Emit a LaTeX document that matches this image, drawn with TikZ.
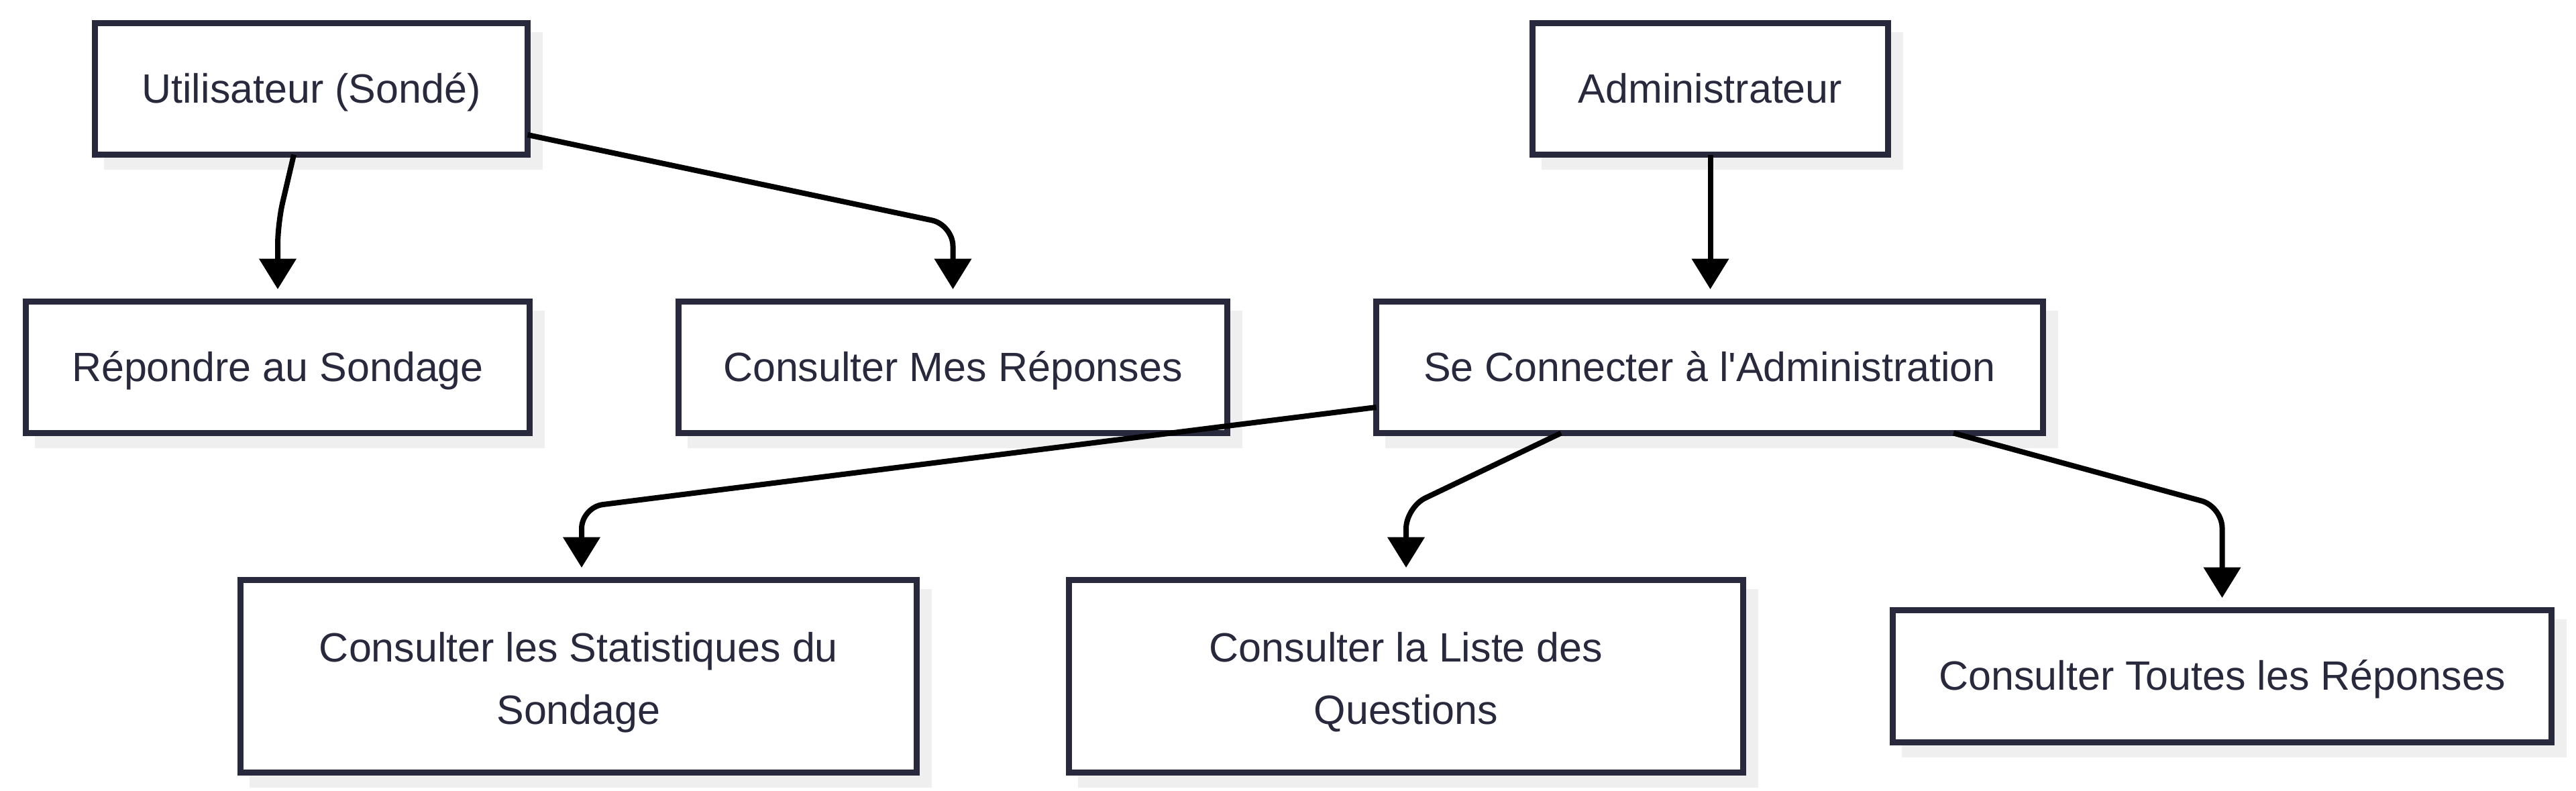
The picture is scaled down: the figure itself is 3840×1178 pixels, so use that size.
\documentclass[tikz,border=0pt]{standalone}
\usepackage{fontspec}
\setmainfont{Liberation Sans}
\usetikzlibrary{arrows.meta,calc}
\definecolor{boxline}{RGB}{41,41,62}
\definecolor{shadowc}{RGB}{239,239,239}
\newcommand{\boxstrut}{\rule[-0.228em]{0pt}{1.128em}}
\newcommand{\topstrut}{\rule{0pt}{15.8pt}}
\tikzset{
  box/.style={draw=boxline, line width=2.25pt, fill=white, text=boxline,
    inner sep=0pt, outer sep=0pt, align=center,
    font=\fontsize{15.25pt}{23.25pt}\selectfont,
    execute at begin node=\boxstrut, execute at end node=\boxstrut,
    preaction={draw=shadowc, fill=shadowc, line width=2.25pt,
      transform canvas={shift={(4.5pt,-4.5pt)}}}},
  edge/.style={draw=black, line width=2pt, rounded corners=8pt,
    -{Triangle[length=11.4pt,width=13.5pt]}, shorten >=4.6pt},
}
\begin{document}
\begin{tikzpicture}[x=0.25pt,y=-0.25pt]
\useasboundingbox (0,0) rectangle (3840,1178);
\fill[white] (0,0) rectangle (3840,1178);

\node[box, minimum width=161.25pt, minimum height=49pt] (U) at (464,132.5) {Utilisateur (Sondé)};
\node[box, minimum width=132.5pt, minimum height=49pt] (A) at (2549.5,132.5) {Administrateur};
\node[box, minimum width=187.75pt, minimum height=49pt] (R) at (414,547.5) {Répondre au Sondage};
\node[box, minimum width=204.5pt, minimum height=49pt] (M) at (1420.5,547.5) {Consulter Mes Réponses};
\node[box, minimum width=248.5pt, minimum height=49pt] (S) at (2548.5,547.5) {Se Connecter à l\textquotesingle Administration};
\node[box, minimum width=252pt, minimum height=71.75pt] (St) at (862.5,1008) {\topstrut Consulter les Statistiques du\\Sondage};
\node[box, minimum width=251.25pt, minimum height=71.75pt] (L) at (2096,1008) {\topstrut Consulter la Liste des\\Questions};
\node[box, minimum width=245.5pt, minimum height=49.25pt] (T) at (3312.5,1008) {Consulter Toutes les Réponses};

\coordinate (c1) at (414,333);
\coordinate (c2) at (1420.5,335);
\coordinate (c4) at (867,756);
\coordinate (c5) at (2096,756);
\coordinate (c6) at (3312.5,755);

\draw[edge] ([shift={(-26,0)}]U.south) -- (c1) -- (R.north);
\draw[edge] ([shift={(0,68.5)}]U.east) -- (c2) -- (M.north);
\draw[edge] (A.south) -- (A.south |- S.north);
\draw[edge] ([shift={(0,59.5)}]S.west) -- (c4) -- ([shift={(4.5,0)}]St.north);
\draw[edge] ([shift={(-221.5,0)}]S.south) -- (c5) -- (L.north);
\draw[edge] ([shift={(363.5,0)}]S.south) -- (c6) -- (T.north);
\end{tikzpicture}
\end{document}
